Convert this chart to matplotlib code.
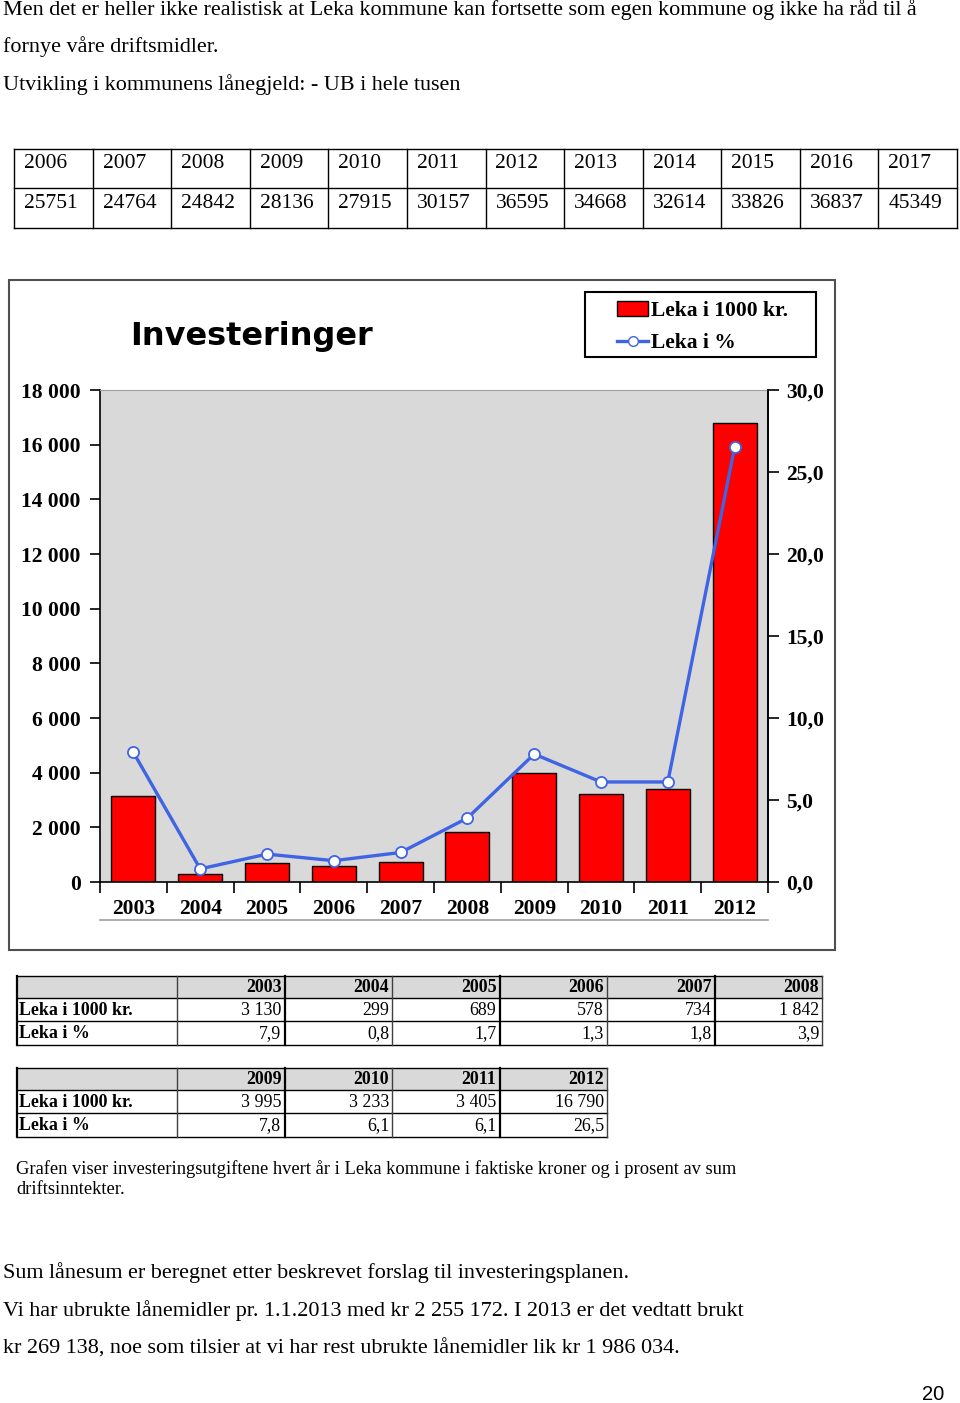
import matplotlib
matplotlib.use('Agg')
import matplotlib.pyplot as plt
from matplotlib.patches import Rectangle, Patch
from matplotlib.lines import Line2D
from matplotlib.font_manager import FontProperties
import numpy as np

# ---------------- data ----------------
years = ['2003', '2004', '2005', '2006', '2007', '2008', '2009', '2010', '2011', '2012']
leka_kr = [3130, 299, 689, 578, 734, 1842, 3995, 3233, 3405, 16790]
leka_pct = [7.9, 0.8, 1.7, 1.3, 1.8, 3.9, 7.8, 6.1, 6.1, 26.5]

loan_years = ['2006', '2007', '2008', '2009', '2010', '2011', '2012', '2013',
              '2014', '2015', '2016', '2017']
loan_debt = [25751, 24764, 24842, 28136, 27915, 30157, 36595, 34668, 32614,
             33826, 36837, 45349]

left_yticks = list(range(0, 18001, 2000))
right_yticks = [0, 5, 10, 15, 20, 25, 30]

W, H = 960, 1403
serif = ['Liberation Serif', 'DejaVu Serif']


def nok(v):
    return f"{v:,}".replace(",", " ")


def pct(v):
    return f"{v:.1f}".replace(".", ",")


fig = plt.figure(figsize=(W / 100, H / 100), dpi=100)
bg = fig.add_axes([0, 0, 1, 1])
bg.set_xlim(0, W)
bg.set_ylim(H, 0)
bg.axis('off')


def txt(x, y, s, size, **kw):
    kw.setdefault('va', 'center')
    kw.setdefault('family', serif)
    bg.text(x, y, s, fontsize=size, **kw)


# ---------------- body text top ----------------
body = 15.9
txt(3, 10, "Men det er heller ikke realistisk at Leka kommune kan fortsette som egen kommune og ikke ha råd til å", body)
txt(3, 47, "fornye våre driftsmidler.", body)
txt(3, 85, "Utvikling i kommunens lånegjeld: - UB i hele tusen", body)

# ---------------- loan table ----------------
tx0, tx1 = 14, 957
ty = [149, 188, 228]
ncol = len(loan_years)
cw = (tx1 - tx0) / ncol
for yy in ty:
    bg.plot([tx0, tx1], [yy, yy], color='black', lw=1.0)
for i in range(ncol + 1):
    bg.plot([tx0 + i * cw, tx0 + i * cw], [ty[0], ty[-1]], color='black', lw=1.0)
for i, (yr, v) in enumerate(zip(loan_years, loan_debt)):
    txt(tx0 + i * cw + 10, 164, yr, 15.5)
    txt(tx0 + i * cw + 10, 203, str(v), 15.5)

# ---------------- chart ----------------
bg.add_patch(Rectangle((9, 280), 826, 670, fill=False, edgecolor='#505050', lw=1.5))
bg.plot([100, 768], [920, 920], color='#a0a0a0', lw=1.2)

ax = fig.add_axes([100 / W, 1 - 882 / H, 668 / W, 492 / H], zorder=3)
ax.set_facecolor('#d9d9d9')
x = np.arange(len(years))
ax.bar(x, leka_kr, width=0.66, color='#ff0000', edgecolor='black', linewidth=1.0, zorder=2)
ax.set_xlim(-0.5, len(years) - 0.5)
ax.set_ylim(0, 18000)
ax.set_yticks(left_yticks)
ax.set_yticklabels([nok(v) for v in left_yticks])
ax.set_xticks(x)
ax.set_xticklabels(years)
ax.set_xticks(np.arange(-0.5, len(years), 1.0), minor=True)
ax.tick_params(axis='x', which='major', length=0, pad=12)
ax.tick_params(axis='x', which='minor', length=8, width=1.2, direction='out', color='black')
ax.tick_params(axis='y', length=7, width=1.2, direction='out', pad=7)
for lab in ax.get_xticklabels() + ax.get_yticklabels():
    lab.set_fontproperties(FontProperties(family=serif, weight='bold', size=15.5))
ax.spines['top'].set_color('#a0a0a0')
for s in ['left', 'right', 'bottom']:
    ax.spines[s].set_color('black')
    ax.spines[s].set_linewidth(1.2)

ax2 = ax.twinx()
ax2.plot(x, leka_pct, color='#3f64e4', lw=2.4, marker='o', markersize=8,
         markerfacecolor='white', markeredgecolor='#3f64e4', markeredgewidth=1.3, zorder=4)
ax2.set_ylim(0, 30)
ax2.set_yticks(right_yticks)
ax2.set_yticklabels([pct(v) for v in right_yticks])
ax2.tick_params(axis='y', length=8, width=1.2, direction='out', pad=5)
for lab in ax2.get_yticklabels():
    lab.set_fontproperties(FontProperties(family=serif, weight='bold', size=15.5))
for s in ['top', 'left', 'bottom']:
    ax2.spines[s].set_visible(False)
ax2.spines['right'].set_color('black')
ax2.spines['right'].set_linewidth(1.2)

# title
fig.text(130 / W, 1 - 336 / H, "Investeringer", fontsize=23, weight='bold',
         family=['DejaVu Sans'], va='center', ha='left')

# legend
bg.add_patch(Rectangle((585, 292), 231, 65, fill=False, edgecolor='black', lw=1.5))
handles = [Patch(facecolor='#ff0000', edgecolor='black', lw=1.0),
           Line2D([0], [0], color='#3f64e4', lw=2.4, marker='o', markersize=7,
                  markerfacecolor='white', markeredgecolor='#3f64e4')]
fig.legend(handles, ['Leka i 1000 kr.', 'Leka i %'], loc='upper left',
           bbox_to_anchor=(600 / W, 1 - 284 / H), frameon=False,
           prop=FontProperties(family=serif, weight='bold', size=15.5),
           handlelength=1.45, handletextpad=0.1, labelspacing=0.55, borderpad=0.3)

# ---------------- data tables under chart ----------------
tsize = 12.9


def data_table(top, cols, kr, pc):
    rows = [top, top + 22, top + 45, top + 69]
    edges = [17, 177] + [177 + 107.5 * (i + 1) for i in range(len(cols))]
    bg.add_patch(Rectangle((edges[0], rows[0]), edges[-1] - edges[0], rows[1] - rows[0],
                           facecolor='#d9d9d9', edgecolor='none'))
    for yy in rows:
        bg.plot([edges[0], edges[-1]], [yy, yy], color='black', lw=1.0)
    for i, e in enumerate(edges):
        bg.plot([e, e], [rows[0], rows[-1]], color='black' if i % 2 == 0 else '#404040',
                lw=1.6 if i % 2 == 0 else 1.0)
    txt(19, (rows[1] + rows[2]) / 2 + 1, "Leka i 1000 kr.", tsize, weight='bold')
    txt(19, (rows[2] + rows[3]) / 2 + 1, "Leka i %", tsize, weight='bold')
    for i, (c, k, p) in enumerate(zip(cols, kr, pc)):
        xr = edges[i + 2] - 3
        txt(xr, (rows[0] + rows[1]) / 2 + 1, c, tsize, weight='bold', ha='right')
        txt(xr, (rows[1] + rows[2]) / 2 + 1, nok(k), tsize, ha='right')
        txt(xr, (rows[2] + rows[3]) / 2 + 1, pct(p), tsize, ha='right')


data_table(976, years[:6], leka_kr[:6], leka_pct[:6])
data_table(1068, years[6:], leka_kr[6:], leka_pct[6:])

txt(16, 1169, "Grafen viser investeringsutgiftene hvert år i Leka kommune i faktiske kroner og i prosent av sum", 13.3)
txt(16, 1190, "driftsinntekter.", 13.3)

# ---------------- bottom text ----------------
txt(3, 1273, "Sum lånesum er beregnet etter beskrevet forslag til investeringsplanen.", body)
txt(3, 1311, "Vi har ubrukte lånemidler pr. 1.1.2013 med kr 2 255 172. I 2013 er det vedtatt brukt", body)
txt(3, 1349, "kr 269 138, noe som tilsier at vi har rest ubrukte lånemidler lik kr 1 986 034.", body)
txt(933, 1395, "20", 14.5, family=['Liberation Sans', 'DejaVu Sans'], ha='center')

fig.savefig('out.png', dpi=100)
